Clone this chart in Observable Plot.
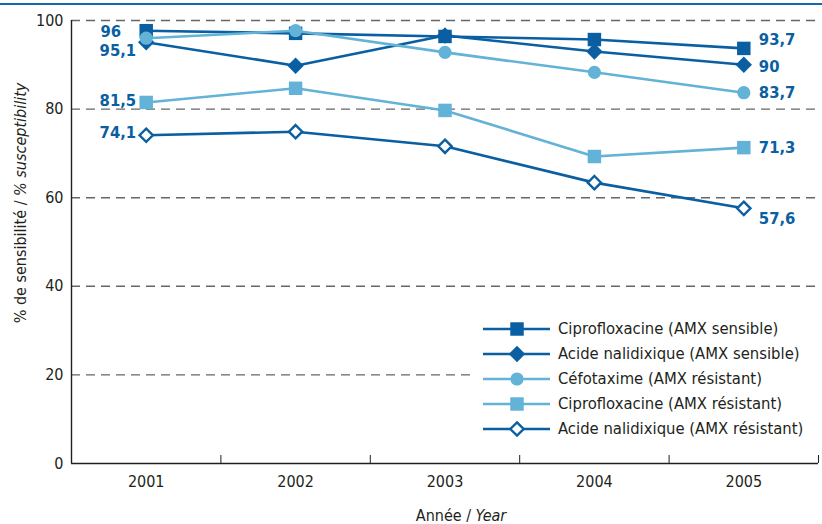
<!DOCTYPE html>
<html>
<head>
<meta charset="utf-8">
<script src="https://cdn.jsdelivr.net/npm/d3@7"></script>
<script src="https://cdn.jsdelivr.net/npm/@observablehq/plot@0.6"></script>
<style>
  body { margin: 0; background: #fff; }
  #wrap { position: relative; width: 822px; height: 524px; overflow: hidden; font-family: "Liberation Sans Narrow", "DejaVu Sans Condensed", "Roboto", sans-serif; color: #231f20; }
  #topline { position: absolute; left: 0; top: 3px; width: 822px; height: 2px; background: #1669a8; }
  #ylab { position: absolute; left: 20px; top: 203px; transform: translate(-50%, -50%) rotate(-90deg); white-space: nowrap; font-size: 16px; }
  #xlab { position: absolute; left: 461px; top: 515px; transform: translate(-50%, -50%); white-space: nowrap; font-size: 16px; }
  #legend { position: absolute; left: 470px; top: 308px; width: 339px; padding: 8px 0 10px 13px; background: #fff; font-size: 16.5px; }
  .row { display: flex; align-items: center; height: 25px; }
  .row svg { margin-right: 8px; }
</style>
</head>
<body>
<div id="wrap">
  <div id="topline"></div>
  <div id="chart"></div>
  <div id="ylab">% de sensibilité / <i>% susceptibility</i></div>
  <div id="xlab">Année / <i>Year</i></div>
  <div id="legend"></div>
</div>
<script>
const years = [2001, 2002, 2003, 2004, 2005];
const yTicks = [0, 20, 40, 60, 80, 100];
const seriesNames = [
  "Ciprofloxacine (AMX sensible)",
  "Acide nalidixique (AMX sensible)",
  "Céfotaxime (AMX résistant)",
  "Ciprofloxacine (AMX résistant)",
  "Acide nalidixique (AMX résistant)"
];
const cipSens = [97.7, 97.1, 96.4, 95.7, 93.7];
const nalSens = [95.1, 89.8, 96.6, 93.0, 90];
const cefoRes = [96, 97.7, 92.8, 88.3, 83.7];
const cipRes  = [81.5, 84.7, 79.7, 69.3, 71.3];
const nalRes  = [74.1, 74.9, 71.6, 63.4, 57.6];

const DARK = "#0a5fa2";
const LIGHT = "#63b2d7";

// style per series (index in seriesNames)
const styles = [
  {values: cipSens, color: DARK,  symbol: "square",   r: 7.6, fill: DARK},
  {values: nalSens, color: DARK,  symbol: "diamond2", r: 7.4, fill: DARK},
  {values: cefoRes, color: LIGHT, symbol: "circle",   r: 6.6, fill: LIGHT},
  {values: cipRes,  color: LIGHT, symbol: "square",   r: 7.6, fill: LIGHT},
  {values: nalRes,  color: DARK,  symbol: "diamond2", r: 6.0, fill: "white"}
];
const drawOrder = [4, 3, 1, 0, 2];

// Value labels: [series index, year index, side, dx, dy]
const labelSpecs = [
  [2, 0, "left", -25, -7], [1, 0, "left", -10, 9], [3, 0, "left", -10, -2], [4, 0, "left", -10, -3],
  [0, 4, "right", 15, -9], [1, 4, "right", 15, 2], [2, 4, "right", 15, 0], [3, 4, "right", 15, 0], [4, 4, "right", 15, 10]
];
const fmt = v => String(v).replace(".", ",");

const boundaries = years.map(y => y + 0.5);

const marks = [
  Plot.ruleY(yTicks.filter(d => d > 0), {stroke: "#666", strokeWidth: 1.4, strokeDasharray: "9,6"}),
  Plot.ruleX([2000.5], {stroke: "#231f20", strokeWidth: 1.4}),
  Plot.ruleY([0], {stroke: "#231f20", strokeWidth: 1.4}),
  Plot.axisY({ticks: yTicks, tickSize: 0, tickPadding: 8, label: null, fontSize: 16}),
  Plot.axisX({ticks: years, tickSize: 0, tickPadding: 12, tickFormat: d => String(d), label: null, fontSize: 16}),
  Plot.axisX({ticks: boundaries, tickSize: 8, dy: -8, tickFormat: () => "", label: null, stroke: "#231f20"})
];

for (const i of drawOrder) {
  const s = styles[i];
  const data = years.map((yr, k) => ({year: yr, value: s.values[k]}));
  marks.push(Plot.line(data, {x: "year", y: "value", stroke: s.color, strokeWidth: 2.6}));
  marks.push(Plot.dot(data, {x: "year", y: "value", symbol: s.symbol, r: s.r, fill: s.fill,
    stroke: s.fill === "white" ? s.color : "none", strokeWidth: 2.4}));
}

for (const [si, yi, side, dx, dy] of labelSpecs) {
  const d = [{year: years[yi], value: styles[si].values[yi]}];
  marks.push(Plot.text(d, {
    x: "year", y: "value", text: e => fmt(e.value),
    textAnchor: side === "left" ? "end" : "start",
    dx, dy,
    fill: DARK, fontWeight: "bold", fontSize: 16.5
  }));
}

const chart = Plot.plot({
  width: 822,
  height: 524,
  marginTop: 20,
  marginBottom: 61,
  marginLeft: 71,
  marginRight: 4,
  x: {type: "linear", domain: [2000.5, 2005.5]},
  y: {domain: [0, 100]},
  style: {fontFamily: "'Liberation Sans Narrow', 'DejaVu Sans Condensed', Roboto, sans-serif", fontSize: "16px", color: "#231f20", background: "transparent"},
  marks
});
document.getElementById("chart").appendChild(chart);

// Legend
const legend = document.getElementById("legend");
styles.forEach((s, i) => {
  const row = document.createElement("div");
  row.className = "row";
  const sym = d3.symbol(s.symbol === "square" ? d3.symbolSquare : s.symbol === "circle" ? d3.symbolCircle : d3.symbolDiamond2,
    Math.PI * s.r * s.r)();
  row.innerHTML = `<svg width="67" height="20"><line x1="0" y1="10" x2="67" y2="10" stroke="${s.color}" stroke-width="2.6"/>
    <path transform="translate(34,10)" d="${sym}" fill="${s.fill}" stroke="${s.fill === "white" ? s.color : "none"}" stroke-width="2.4"/></svg><span>${seriesNames[i]}</span>`;
  legend.appendChild(row);
});
</script>
</body>
</html>
